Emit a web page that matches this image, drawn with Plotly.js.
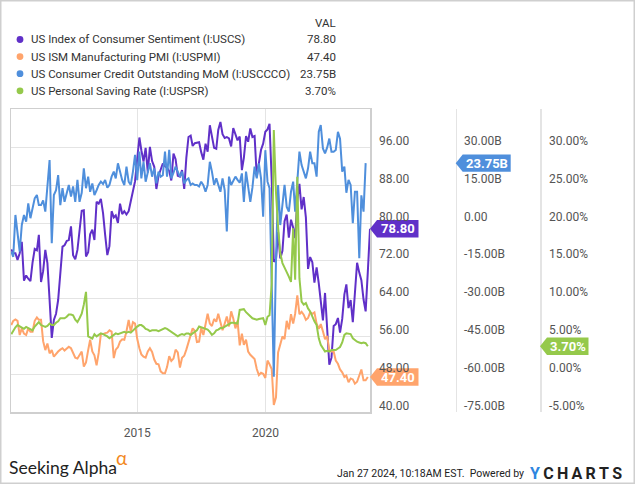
<!DOCTYPE html>
<html><head><meta charset="utf-8">
<script src="https://cdn.plot.ly/plotly-3.0.1.min.js"></script>
<style>html,body{margin:0;padding:0;background:#fff;}#chart{width:635px;height:484px;}</style>
</head><body><div id="chart"></div>
<script>
const seriesNames = ['US Index of Consumer Sentiment (I:USCS)','US ISM Manufacturing PMI (I:USPMI)','US Consumer Credit Outstanding MoM (I:USCCCO)','US Personal Saving Rate (I:USPSR)'];
const seriesValueText = ['78.80','47.40','23.75B','3.70%'];
const seriesColors = ['#6030c8','#ffa46c','#4f8fdc','#95c94b'];
const startYear = 2010;

// Monthly, Jan 2010 - Jan 2024
const sentiment = [
74.4,73.6,73.6,72.2,73.6,76.0,67.8,68.9,68.2,67.7,71.6,74.5,
74.2,77.5,67.5,69.8,74.3,71.5,63.7,55.7,59.5,60.8,63.7,69.9,
75.0,75.3,76.2,76.4,79.3,73.2,72.3,74.3,78.3,82.6,82.7,72.9,
73.8,77.6,78.6,76.4,84.5,84.1,85.1,82.1,77.5,73.2,75.1,82.5,
81.2,81.6,80.0,84.1,81.9,82.5,81.8,82.5,84.6,86.9,88.8,93.6,
98.1,95.4,93.0,95.9,90.7,96.1,93.1,91.9,87.2,90.0,91.3,92.6,
92.0,91.7,91.0,89.0,94.7,93.5,90.0,89.8,91.2,87.2,93.8,98.2,
98.5,96.3,96.9,97.0,97.1,95.0,93.4,96.8,95.1,100.7,98.5,95.9,
95.7,99.7,101.4,98.8,98.0,98.2,97.9,96.2,100.1,98.6,97.5,98.3,
91.2,93.8,98.4,97.2,100.0,98.2,98.4,89.8,93.2,95.5,96.8,99.3,
99.8,101.0,89.1,71.8,72.3,78.1,72.5,74.1,80.4,81.8,76.9,80.7,
79.0,76.8,84.9,88.3,82.9,85.5,81.2,70.3,72.8,71.7,67.4,70.6,
67.2,62.8,59.4,65.2,58.4,50.0,51.5,58.2,58.6,59.9,56.8,59.7,
64.9,67.0,62.0,63.7,59.0,64.4,71.6,69.5,67.9,63.8,61.3,69.7,
78.8];

// Monthly, Jan 2010 - Dec 2023
const pmi = [
58.4,59.3,59.6,59.3,56.3,57.7,56.6,56.3,57.7,57.0,57.0,59.3,
60.0,59.5,59.5,55.0,53.1,54.5,52.4,53.1,51.7,52.3,52.8,53.2,
53.5,53.0,53.4,53.8,53.5,52.4,51.5,51.3,52.0,52.8,49.6,50.5,
53.1,55.3,52.8,52.0,49.9,52.5,56.5,56.5,56.7,56.8,57.3,57.0,
51.4,53.2,53.7,54.9,55.4,55.3,57.1,59.5,57.0,59.0,58.7,55.5,
53.5,52.2,51.7,51.5,52.8,53.5,52.7,51.1,50.2,50.1,48.6,48.2,
48.2,49.5,51.8,50.8,51.3,53.2,52.6,49.4,51.5,51.9,53.2,54.7,
56.0,57.7,57.2,54.8,54.9,57.8,56.3,58.8,60.8,58.7,58.2,59.7,
59.1,60.8,59.3,57.3,58.7,60.2,58.1,61.3,59.8,57.7,59.3,54.1,
56.6,54.2,55.3,52.8,52.1,51.7,51.2,49.1,47.8,48.3,48.1,47.2,
50.9,50.1,49.1,41.5,43.1,52.6,54.2,56.0,55.4,59.3,57.5,60.7,
58.7,60.8,64.7,60.7,61.2,60.6,59.5,59.9,61.1,60.8,61.1,58.7,
57.6,58.6,57.1,55.4,56.1,53.0,52.8,52.8,50.9,50.2,49.0,48.4,
47.4,47.7,46.3,47.1,46.9,46.0,46.4,47.6,49.0,46.7,46.7,47.4];

// Billions, monthly, Jan 2010 - Nov 2023
const credit = [
-11.4,-13.4,3.2,-3.4,-11.4,-0.8,3.2,0.5,7.8,1.9,6.0,9.8,
11.1,7.1,7.1,9.0,4.5,13.8,25.0,-8.0,11.1,13.0,19.0,7.1,
13.8,8.4,12.0,15.1,10.5,14.5,8.4,17.1,8.4,12.0,21.7,13.8,
18.4,12.4,15.7,11.1,13.0,15.1,16.4,15.5,17.1,14.0,15.1,18.4,
20.4,17.7,23.7,19.7,17.0,15.0,22.4,16.4,15.1,20.4,27.0,17.0,
28.3,17.7,24.3,16.4,20.0,23.7,18.4,21.7,15.7,20.4,18.4,19.0,
28.3,18.4,29.0,17.7,20.0,22.4,20.4,18.4,20.4,15.7,17.1,17.7,
15.1,15.7,15.1,15.1,14.5,16.4,15.0,12.4,15.1,24.3,20.4,15.1,
17.7,15.1,12.4,17.7,13.0,-3.4,18.4,15.1,17.0,18.4,17.1,16.0,
19.7,8.4,20.4,13.8,8.4,14.0,22.4,17.7,23.7,17.7,2.5,28.9,
16.4,13.8,-25.0,-61.0,-15.0,15.1,-0.8,8.0,15.1,6.4,4.5,12.4,
16.4,4.5,18.4,28.3,23.0,20.4,17.7,21.7,28.3,23.7,23.7,18.4,
36.2,38.9,29.6,27.6,30.0,33.5,28.3,28.3,29.0,36.2,33.5,20.4,
22.4,12.0,17.1,15.1,-0.1,12.4,12.4,-14.0,11.0,4.5,23.75];

// Percent, monthly, Jan 2010 - Dec 2023
const saving = [
5.3,5.8,6.2,6.5,6.3,6.1,6.0,6.25,6.1,6.0,5.8,6.3,
6.6,6.9,6.5,6.4,6.25,6.4,6.7,6.5,6.5,6.8,7.0,7.4,
7.4,7.4,7.6,7.9,7.9,7.8,7.2,6.9,7.4,8.0,9.2,10.9,
5.0,4.9,4.7,5.3,5.0,5.2,5.4,5.3,5.2,5.0,4.75,5.0,
5.2,5.4,5.3,5.4,5.5,5.6,5.5,5.6,5.5,5.8,6.1,6.3,
6.5,6.5,6.3,6.0,5.9,5.7,5.8,5.8,5.8,5.7,5.8,5.9,
6.1,6.0,5.8,5.6,5.3,5.1,5.0,5.2,5.3,5.2,5.4,5.4,
5.2,5.4,5.6,5.8,6.3,6.2,6.1,6.0,5.9,5.6,5.2,5.4,
5.8,5.9,6.1,6.1,6.3,6.5,6.6,6.8,6.8,6.7,6.7,8.5,
8.6,8.6,8.2,7.9,7.6,7.4,7.3,7.2,7.3,7.4,7.4,6.5,
7.6,7.8,12.0,32.3,24.0,19.5,16.0,14.7,14.0,13.5,12.9,12.2,
19.3,12.5,26.1,12.7,9.6,9.2,9.4,8.7,8.3,7.6,7.0,6.5,
4.75,3.9,3.4,3.0,3.1,3.0,3.2,3.2,3.2,3.4,3.6,4.2,
5.2,5.4,5.4,5.3,4.75,4.5,4.3,4.2,4.1,4.2,4.1,3.7];

const xTickVals = ['2015-01-01','2020-01-01'];
const xTickText = ['2015','2020'];
const leftTicks = [40,48,56,64,72,80,88,96];
const leftTickText = ['40.00','48.00','56.00','64.00','72.00','80.00','88.00','96.00'];
const creditTicks = [-75,-60,-45,-30,-15,0,15,30];
const creditTickText = ['-75.00B','-60.00B','-45.00B','-30.00B','-15.00B','0.00','15.00B','30.00B'];
const savingTicks = [-5,0,5,10,15,20,25,30];
const savingTickText = ['-5.00%','0.00%','5.00%','10.00%','15.00%','20.00%','25.00%','30.00%'];

function monthEnds(n){
  const out=[];
  for(let i=0;i<n;i++){
    const y=startYear+Math.floor(i/12), m=i%12;
    out.push(new Date(Date.UTC(y,m+1,0)).toISOString().slice(0,10));
  }
  return out;
}

const W=635, H=484;
const PL=11, PR=370, PT=109, PB=412;
const fx = x => x/W, fy = y => 1 - y/H;
const FF = "Roboto, 'Liberation Sans', sans-serif";
const GRID = '#e4e4e4';

const ySeries = [sentiment, pmi, credit, saving];
const yRefs = ['y','y','y2','y3'];
const traces = ySeries.map((s,k)=>({
  type:'scatter', mode:'lines', x: monthEnds(s.length), y: s,
  yaxis: yRefs[k], line:{color:seriesColors[k], width:2}, hoverinfo:'skip', showlegend:false
}));

const shapes = [];
const annotations = [];

// outer border
shapes.push({type:'rect', xref:'paper', yref:'paper', x0:0, x1:1, y0:0, y1:1, line:{color:'#cfcfcf', width:3}, layer:'above'});

// right-side tick labels (drawn slightly above their gridlines as in the reference)
const tickFont = {family:FF, size:12, color:'#555'};
[[leftTicks,leftTickText,'y',377],[creditTicks,creditTickText,'y2',462],[savingTicks,savingTickText,'y3',547]].forEach(([vals,txt,ref,xp])=>{
  vals.forEach((v,i)=>annotations.push({xref:'paper', yref:ref, x:fx(xp), y:v, yshift:6.5, xanchor:'left', yanchor:'middle', text:txt[i], showarrow:false, font:tickFont}));
});

// legend
const legFont = {family:FF, size:11.5, color:'#333'};
annotations.push({xref:'paper', yref:'paper', x:fx(338), y:fy(23), xanchor:'right', yanchor:'middle', text:'VAL', showarrow:false, font:legFont});
seriesNames.forEach((name,k)=>{
  const yy = 39.5 + 17.1*k;
  shapes.push({type:'circle', xref:'paper', yref:'paper', xsizemode:'pixel', ysizemode:'pixel', xanchor:fx(20), yanchor:fy(yy), x0:-3.4, x1:3.4, y0:-3.4, y1:3.4, fillcolor:seriesColors[k], line:{width:0}});
  annotations.push({xref:'paper', yref:'paper', x:fx(29), y:fy(yy), xanchor:'left', yanchor:'middle', text:name, showarrow:false, font:legFont});
  annotations.push({xref:'paper', yref:'paper', x:fx(338), y:fy(yy), xanchor:'right', yanchor:'middle', text:seriesValueText[k], showarrow:false, font:legFont});
});

// value badges
const lastVals = ySeries.map(s=>s[s.length-1]);
const badgeX = [370, 370, 455.7, 540];
const badgeW = [48.5, 48.5, 55, 48.5];
lastVals.forEach((v,k)=>{
  shapes.push({type:'path', xref:'paper', yref:yRefs[k], xsizemode:'pixel', ysizemode:'pixel', xanchor:fx(badgeX[k]), yanchor:v,
    path:`M0,0 L7,8.7 L${badgeW[k]},8.7 L${badgeW[k]},-8.7 L7,-8.7 Z`, fillcolor:seriesColors[k], line:{width:0}, layer:'above'});
  annotations.push({xref:'paper', yref:yRefs[k], x:fx(badgeX[k]+4+badgeW[k]/2), y:v, xanchor:'center', yanchor:'middle', text:'<b>'+seriesValueText[k]+'</b>', showarrow:false, font:{family:'Roboto, sans-serif', size:13, color:'#ffffff'}});
});

// footer
annotations.push({xref:'paper', yref:'paper', x:fx(7), y:fy(467), xanchor:'left', yanchor:'middle', text:'Seeking Alpha', showarrow:false, font:{family:'Lato, sans-serif', size:17.5, color:'#222'}});
annotations.push({xref:'paper', yref:'paper', x:fx(114), y:fy(457), xanchor:'left', yanchor:'middle', text:'α', showarrow:false, font:{family:'Lato, sans-serif', size:19, color:'#f2891f'}});
annotations.push({xref:'paper', yref:'paper', x:fx(526), y:fy(473), xanchor:'right', yanchor:'middle', text:'Jan 27 2024, 10:18AM EST.  Powered by', showarrow:false, font:{family:FF, size:10.5, color:'#222'}});
annotations.push({xref:'paper', yref:'paper', x:fx(528), y:fy(473), xanchor:'left', yanchor:'middle', text:'<b><span style="color:#2f86e0">Y</span>\u2009C\u2009H\u2009A\u2009R\u2009T\u2009S</b>', showarrow:false, font:{family:'Roboto, sans-serif', size:16, color:'#222'}});

const layout = {
  width:W, height:H, margin:{l:0,r:0,t:0,b:0}, paper_bgcolor:'#fff', plot_bgcolor:'#fff', showlegend:false,
  xaxis:{domain:[fx(PL),fx(PR)], type:'date', range:['2010-01-27','2024-01-31'], tickvals:xTickVals, ticktext:xTickText,
    showgrid:true, gridcolor:GRID, gridwidth:1, zeroline:false, showline:true, mirror:true, linecolor:'#cfcfcf', linewidth:1.5,
    ticks:'', tickfont:{family:FF, size:12, color:'#555'}, ticklabelstandoff:9, fixedrange:true},
  yaxis:{domain:[fy(PB),fy(PT)], range:[40,104.13], side:'right', tickvals:leftTicks, showticklabels:false,
    showgrid:true, gridcolor:GRID, gridwidth:1, zeroline:false, showline:true, mirror:true, linecolor:'#cfcfcf', linewidth:1.5,
    ticks:'', fixedrange:true},
  yaxis2:{overlaying:'y', anchor:'free', position:fx(455.7), side:'right', range:[-75,45.24], tickvals:creditTicks, showticklabels:false,
    showgrid:false, zeroline:false, showline:true, linecolor:GRID, linewidth:1.5, ticks:'', fixedrange:true},
  yaxis3:{overlaying:'y', anchor:'free', position:fx(540), side:'right', range:[-5,35.08], tickvals:savingTicks, showticklabels:false,
    showgrid:false, zeroline:false, showline:true, linecolor:GRID, linewidth:1.5, ticks:'', fixedrange:true},
  shapes:shapes, annotations:annotations
};
Plotly.newPlot('chart', traces, layout, {displayModeBar:false, staticPlot:true});
</script>
</body></html>
